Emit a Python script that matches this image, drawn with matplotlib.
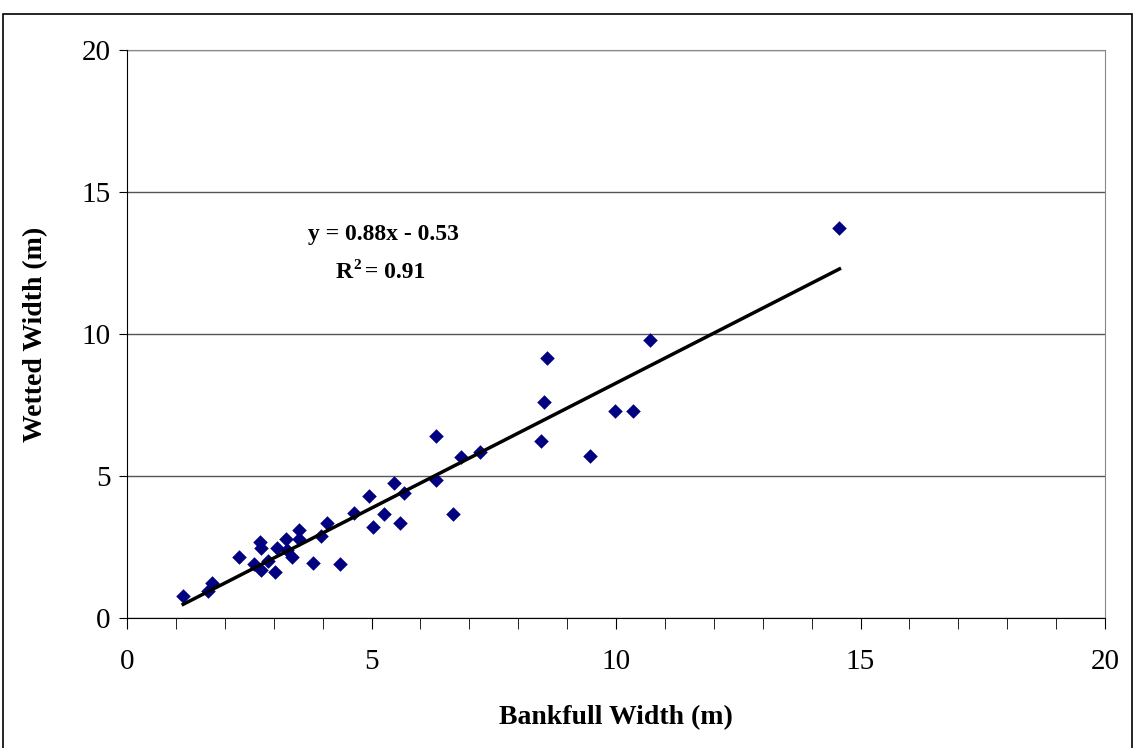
import numpy as np
import matplotlib
matplotlib.use("Agg")
import matplotlib.pyplot as plt
from matplotlib.patches import Rectangle

# Bankfull vs wetted width (m)
bankfull = [1.15, 1.66, 1.74, 2.29, 2.60, 2.72, 2.74, 2.74, 2.88, 3.03,
            3.07, 3.25, 3.28, 3.37, 3.52, 3.52, 3.80, 3.97, 4.10, 4.36,
            4.65, 4.95, 5.03, 5.26, 5.47, 5.58, 5.66, 6.32, 6.32, 6.67,
            6.84, 7.21, 8.58, 8.53, 8.46, 9.47, 9.98, 10.35, 10.69, 14.57]
wetted = [0.77, 0.95, 1.23, 2.15, 1.90, 2.68, 2.46, 1.69, 2.02, 1.63,
          2.45, 2.77, 2.39, 2.14, 3.10, 2.77, 1.95, 2.90, 3.35, 1.89,
          3.69, 4.31, 3.21, 3.67, 4.74, 3.36, 4.41, 6.41, 4.86, 3.66,
          5.66, 5.83, 9.14, 7.62, 6.23, 5.70, 7.30, 7.30, 9.79, 13.72]

slope, intercept, r2 = 0.88, -0.53, 0.91
ticks = [0, 5, 10, 15, 20]

plt.rcParams['font.family'] = ['Liberation Serif', 'DejaVu Serif']

fig = plt.figure(figsize=(11.35, 7.48), dpi=100)
ax = fig.add_axes([127 / 1135, 130 / 748, 978 / 1135, 568 / 748])

# outer chart border
fig.patches.append(Rectangle((3 / 1135, -0.01), 1129 / 1135, 741 / 748,
                             transform=fig.transFigure, fill=False,
                             edgecolor='black', linewidth=1.2))

ax.set_xlim(0, 20)
ax.set_ylim(0, 20)
ax.set_xticks(ticks)
ax.set_yticks(ticks)
ax.set_xticks(range(0, 21), minor=True)
ax.tick_params(axis='both', which='both', direction='out', labelsize=21,
               color='black')
ax.tick_params(axis='x', which='major', length=8, pad=14)
ax.tick_params(axis='x', which='minor', length=8)
ax.tick_params(axis='y', which='major', length=6, pad=6)

ax.grid(axis='y', color='#555555', linewidth=1)
ax.set_axisbelow(True)
for side in ('top', 'right'):
    ax.spines[side].set_color('#888888')
for side in ('left', 'bottom'):
    ax.spines[side].set_color('black')
    ax.spines[side].set_zorder(3)

ax.scatter(bankfull, wetted, marker='D', s=55, color='#000080', zorder=4,
           linewidths=0)

xl = np.array([min(bankfull), max(bankfull)])
ax.plot(xl, slope * xl + intercept, color='black', linewidth=2.5, zorder=5)

ax.text(5.25, 13.5, 'y = 0.88x - 0.53', fontsize=17, fontweight='bold',
        ha='center', va='center')
ax.text(4.62, 12.15, 'R', fontsize=17, fontweight='bold', ha='right',
        va='center')
ax.text(4.62, 12.4, '2', fontsize=11, fontweight='bold', ha='left',
        va='center')
ax.text(4.62 + 0.13, 12.15, ' = 0.91', fontsize=17, fontweight='bold',
        ha='left', va='center')

ax.set_xlabel('Bankfull Width (m)', fontsize=20, fontweight='bold', labelpad=22)
ax.set_ylabel('Wetted Width (m)', fontsize=20, fontweight='bold', labelpad=24)

fig.savefig('out.png', dpi=100)
